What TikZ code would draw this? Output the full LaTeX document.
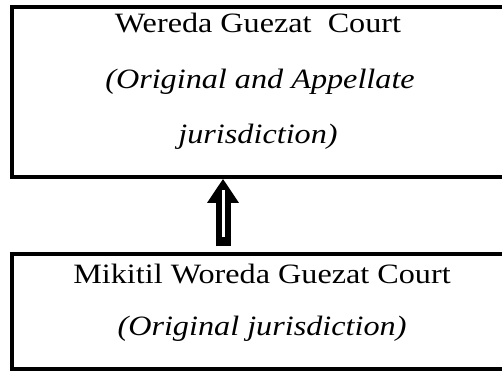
\documentclass[tikz,border=0pt]{standalone}
\usepackage{fontspec}
\setmainfont{Liberation Serif}[FakeStretch=1.15]
\usetikzlibrary{arrows.meta}
\begin{document}
\begin{tikzpicture}[x=1pt,y=-1pt,line join=miter,
	court box/.style={draw,line width=3.5pt,minimum width=498pt,inner sep=0pt},
	court text/.style={anchor=base,inner sep=0pt,font=\fontsize{28}{30}\selectfont},
	appeal arrow/.style={-{Triangle[width=30pt,length=24pt]},line width=15pt}]
	\useasboundingbox (0,0) rectangle (502,371);
	\clip (0,0) rectangle (502,371);
	\node[court box,minimum height=170pt] (wereda) at (261,92) {};
	\node[court box,minimum height=115pt] (mikitil) at (261,311.5) {};
	\node[court text] (wereda name) at (258,33) {Wereda Guezat\ \ Court};
	\node[court text] (wereda kind) at (260,89) {\textit{(Original and Appellate}};
	\node[court text] (wereda rest) at (258,144) {\textit{jurisdiction)}};
	\node[court text] (mikitil name) at (262,283) {Mikitil Woreda Guezat Court};
	\node[court text] (mikitil kind) at (262,335) {\textit{(Original jurisdiction)}};
	\path (wereda.south) ++(-38,0) coordinate (uptip);
	\path ([yshift=6pt]mikitil.north -| uptip) coordinate (upfoot);
	\draw[appeal arrow] (upfoot) -- (uptip);
	\draw[white,line width=3pt,shorten <=9pt,shorten >=11pt] (upfoot) -- (uptip);
\end{tikzpicture}
\end{document}
